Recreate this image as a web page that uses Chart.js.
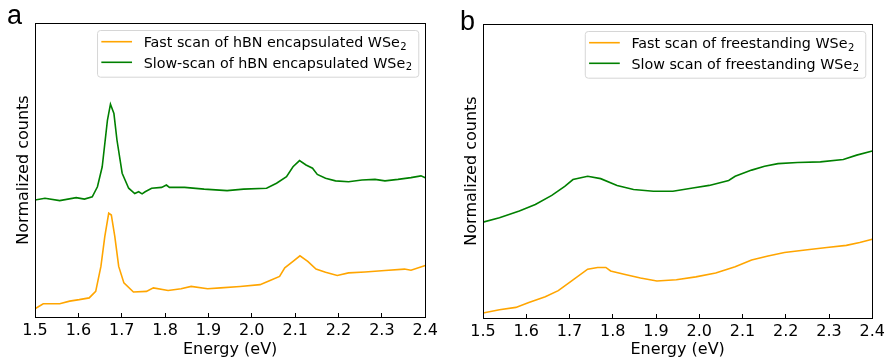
<!DOCTYPE html>
<html>
<head>
<meta charset="utf-8">
<script src="https://cdn.jsdelivr.net/npm/chart.js@4.4.1/dist/chart.umd.min.js"></script>
<style>
    html, body { margin: 0; padding: 0; background: #fff; }
    #wrap { position: relative; width: 893px; height: 363px; overflow: hidden; }
    .panel { position: absolute; top: 0; height: 363px; }
    .tag { position: absolute; font-family: "Liberation Sans", Arial, sans-serif; font-size: 27px; line-height: 1; color: #000; }
</style>
</head>
<body>
<div id="wrap">
    <div class="panel" style="left:0;width:446px"><canvas id="chartA" width="446" height="363"></canvas></div>
    <div class="panel" style="left:446px;width:447px"><canvas id="chartB" width="447" height="363"></canvas></div>
    <div class="tag" style="left:7px;top:2px">a</div>
    <div class="tag" style="left:460px;top:8px">b</div>
</div>
<script>
// x ticks shared by both panels
const energyTicks = [1.5, 1.6, 1.7, 1.8, 1.9, 2.0, 2.1, 2.2, 2.3, 2.4];

// panel a: hBN encapsulated WSe2 (arbitrary normalized units, 0-100 = plot height)
const energySlowA = [1.5, 1.523, 1.557, 1.595, 1.614, 1.632, 1.644, 1.655, 1.667, 1.674, 1.682, 1.689, 1.701, 1.716, 1.73, 1.739, 1.747, 1.754, 1.769, 1.792, 1.803, 1.81, 1.845, 1.89, 1.943, 1.981, 2.034, 2.057, 2.08, 2.095, 2.11, 2.125, 2.14, 2.151, 2.17, 2.193, 2.223, 2.254, 2.284, 2.307, 2.337, 2.367, 2.39, 2.4];
const countsSlowA = [39.8, 40.4, 39.6, 40.6, 40.1, 40.9, 44.3, 51.1, 66.9, 72.4, 69.2, 60.2, 48.9, 43.8, 42.0, 42.6, 41.9, 42.6, 43.8, 44.1, 44.9, 44.1, 44.1, 43.5, 43.0, 43.5, 43.8, 45.5, 47.7, 51.1, 53.2, 51.7, 50.6, 48.5, 47.2, 46.3, 46.0, 46.6, 46.8, 46.3, 46.8, 47.4, 48.0, 47.4];
const energyFastA = [1.5, 1.519, 1.557, 1.58, 1.602, 1.625, 1.64, 1.652, 1.661, 1.67, 1.676, 1.684, 1.693, 1.705, 1.727, 1.757, 1.773, 1.807, 1.837, 1.86, 1.898, 1.928, 1.973, 2.019, 2.042, 2.064, 2.076, 2.095, 2.111, 2.129, 2.148, 2.17, 2.197, 2.223, 2.261, 2.307, 2.352, 2.367, 2.4];
const countsFastA = [2.8, 4.5, 4.5, 5.4, 5.9, 6.5, 8.7, 17.2, 27.4, 35.3, 34.7, 27.4, 17.2, 11.6, 8.5, 8.7, 9.9, 9.0, 9.6, 10.4, 9.6, 9.9, 10.4, 11.0, 12.4, 13.8, 16.7, 18.9, 20.8, 18.9, 16.3, 15.2, 14.1, 15.0, 15.3, 15.8, 16.3, 15.9, 17.5];

// panel b: freestanding WSe2
const energySlowB = [1.5, 1.538, 1.584, 1.621, 1.659, 1.689, 1.708, 1.742, 1.772, 1.81, 1.848, 1.894, 1.939, 1.985, 2.023, 2.068, 2.083, 2.121, 2.151, 2.182, 2.227, 2.28, 2.333, 2.364, 2.4];
const countsSlowB = [32.6, 34.1, 36.4, 38.6, 41.7, 44.8, 47.1, 48.2, 47.4, 45.1, 43.7, 43.1, 43.1, 44.2, 45.1, 46.8, 48.2, 50.3, 51.6, 52.5, 52.9, 53.1, 53.9, 55.4, 56.8];
const energyFastB = [1.5, 1.538, 1.576, 1.606, 1.644, 1.674, 1.705, 1.742, 1.765, 1.784, 1.795, 1.826, 1.864, 1.902, 1.947, 1.992, 2.038, 2.083, 2.121, 2.159, 2.197, 2.25, 2.295, 2.34, 2.371, 2.4];
const countsFastB = [1.7, 2.8, 3.6, 5.3, 7.2, 9.3, 12.6, 16.6, 17.2, 17.2, 16.0, 14.9, 13.6, 12.6, 13.0, 14.0, 15.3, 17.4, 19.7, 21.1, 22.3, 23.2, 24.0, 24.7, 25.7, 26.8];

const labelsA = ['Fast scan of hBN encapsulated WSe\u2082', 'Slow-scan of hBN encapsulated WSe\u2082'];
const labelsB = ['Fast scan of freestanding WSe\u2082', 'Slow scan of freestanding WSe\u2082'];

const FAST_COLOR = '#ffa500';
const SLOW_COLOR = '#008000';
const FONT = 'DejaVu Sans';
const LEGEND_FONT = '14.3px "' + FONT + '"';
const SUB_FONT = '10px "' + FONT + '"';

function toPoints(xs, ys) {
    return xs.map((x, i) => ({ x: x, y: ys[i] }));
}

// label may end with a subscript two; draw it as a small lowered '2'
function splitSub(label) {
    const i = label.indexOf('\u2082');
    return i < 0 ? [label, ''] : [label.slice(0, i), '2'];
}

function labelWidth(ctx, label) {
    const parts = splitSub(label);
    ctx.font = LEGEND_FONT;
    let w = ctx.measureText(parts[0]).width;
    if (parts[1]) {
        ctx.font = SUB_FONT;
        w += ctx.measureText(parts[1]).width;
    }
    return w;
}

// frame around the plot + matplotlib-like legend box in the upper right corner
const boxLegend = {
    id: 'boxLegend',
    afterDraw(chart) {
        const ctx = chart.ctx;
        const area = chart.chartArea;
        ctx.save();
        ctx.strokeStyle = '#000';
        ctx.lineWidth = 1;
        ctx.strokeRect(Math.round(area.left) + 0.5, Math.round(area.top) + 0.5,
            Math.round(area.right - area.left), Math.round(area.bottom - area.top));

        const items = chart.data.datasets;
        const textW = Math.max(...items.map(d => labelWidth(ctx, d.label)));
        const right = area.right - 7;
        const top = area.top + 7;
        const w = 4.3 + 30.7 + 11.6 + textW + 6.7;
        const left = right - w;
        const h = 46.7;
        ctx.beginPath();
        ctx.roundRect(left + 0.5, top + 0.5, w, h, 3);
        ctx.fillStyle = 'rgba(255,255,255,0.8)';
        ctx.fill();
        ctx.strokeStyle = '#d6d6d6';
        ctx.lineWidth = 1;
        ctx.stroke();

        items.forEach((d, i) => {
            const y = top + 11.7 + i * 20.6;
            ctx.beginPath();
            ctx.moveTo(left + 4.3, y);
            ctx.lineTo(left + 35, y);
            ctx.strokeStyle = d.borderColor;
            ctx.lineWidth = 1.6;
            ctx.stroke();
            const parts = splitSub(d.label);
            ctx.fillStyle = '#000';
            ctx.textBaseline = 'alphabetic';
            ctx.textAlign = 'left';
            const base = y + 5.6;
            ctx.font = LEGEND_FONT;
            ctx.fillText(parts[0], left + 46.6, base);
            if (parts[1]) {
                const x2 = left + 46.6 + ctx.measureText(parts[0]).width + 0.5;
                ctx.font = SUB_FONT;
                ctx.fillText(parts[1], x2, base + 2.5);
            }
        });
        ctx.restore();
    }
};

function makeChart(canvasId, labels, fast, slow, pad) {
    const ctx = document.getElementById(canvasId).getContext('2d');
    return new Chart(ctx, {
        type: 'line',
        data: {
            datasets: [{
                label: labels[0],
                data: fast,
                borderColor: FAST_COLOR,
                borderWidth: 1.6,
                pointRadius: 0,
                fill: false
            }, {
                label: labels[1],
                data: slow,
                borderColor: SLOW_COLOR,
                borderWidth: 1.6,
                pointRadius: 0,
                fill: false
            }]
        },
        options: {
            responsive: false,
            animation: false,
            layout: { padding: { top: pad.top, right: pad.right, left: 0, bottom: 0 } },
            plugins: { legend: { display: false }, tooltip: { enabled: false } },
            scales: {
                x: {
                    type: 'linear',
                    min: 1.5,
                    max: 2.4,
                    afterBuildTicks: s => { s.ticks = energyTicks.map(v => ({ value: v })); },
                    afterFit: s => { s.height = pad.bottomAxis; },
                    border: { display: false },
                    grid: { drawOnChartArea: false, color: '#000', tickLength: -4, tickWidth: 1 },
                    ticks: {
                        color: '#000',
                        padding: 8,
                        maxRotation: 0,
                        font: { family: FONT, size: 16 },
                        callback: v => Number(v).toFixed(1)
                    },
                    title: {
                        display: true,
                        text: 'Energy (eV)',
                        color: '#000',
                        font: { family: FONT, size: 16 },
                        padding: { top: 0, bottom: 4 }
                    }
                },
                y: {
                    min: 0,
                    max: 100,
                    afterFit: s => { s.width = pad.leftAxis; },
                    border: { display: false },
                    grid: { display: false },
                    ticks: { display: false },
                    title: {
                        display: true,
                        text: 'Normalized counts',
                        color: '#000',
                        font: { family: FONT, size: 16 },
                        padding: { top: pad.titleOffset, bottom: 0 }
                    }
                }
            }
        },
        plugins: [boxLegend]
    });
}

makeChart('chartA', labelsA, toPoints(energyFastA, countsFastA), toPoints(energySlowA, countsSlowA),
    { top: 23, right: 15, bottomAxis: 46, leftAxis: 35, titleOffset: 14 });
makeChart('chartB', labelsB, toPoints(energyFastB, countsFastB), toPoints(energySlowB, countsSlowB),
    { top: 24, right: 14, bottomAxis: 45, leftAxis: 37, titleOffset: 16 });
</script>
</body>
</html>
